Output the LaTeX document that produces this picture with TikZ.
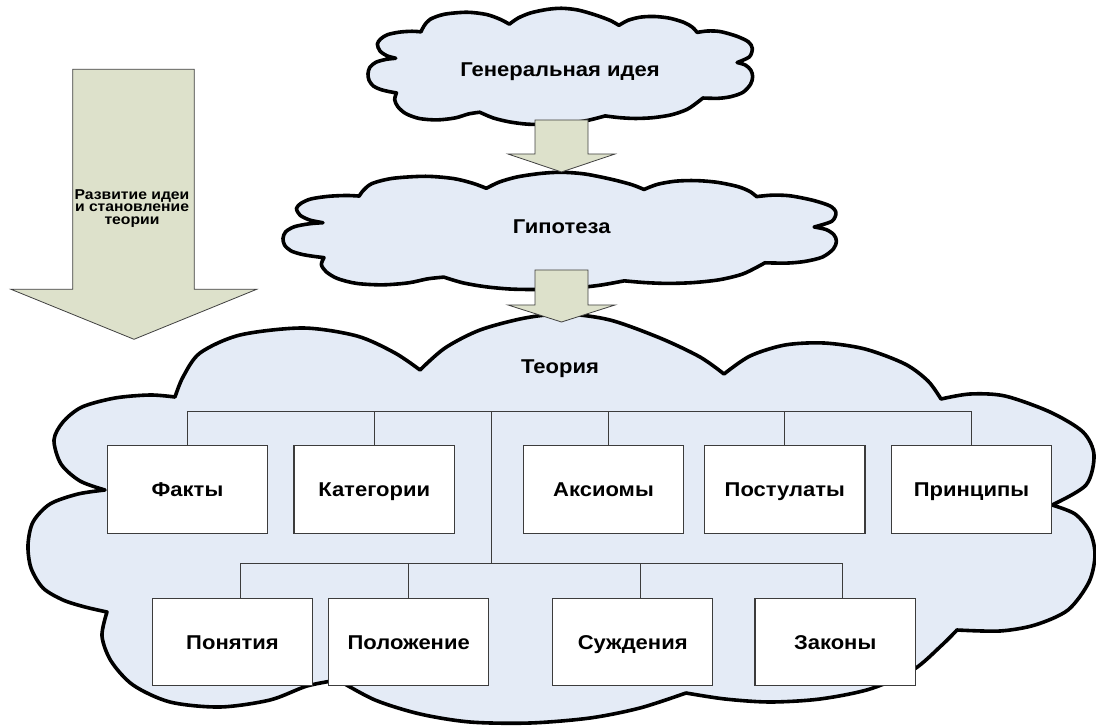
\documentclass[tikz,border=0pt]{standalone}
\usepackage{fontspec}
\setmainfont{Liberation Sans}
\usepackage{graphicx}
\definecolor{cloudfill}{RGB}{228,235,246}
\definecolor{arrowfill}{RGB}{221,225,203}
\definecolor{boxline}{RGB}{60,60,60}
\newcommand{\labelsize}{\bfseries\fontsize{15}{18}\selectfont}
\newcommand{\notesize}{\bfseries\fontsize{10.7}{9.3}\selectfont}
\newcommand{\wide}[1]{\scalebox{1.1}[1]{#1}}
\tikzset{
  cloudline/.style={draw=black, line width=2.7pt, fill=cloudfill, line join=round},
  blockarrow/.style={draw=black!75, line width=0.6pt, fill=arrowfill},
  box/.style={draw=boxline, line width=0.9pt, fill=white, minimum width=120.2pt,
    minimum height=65.5pt, inner sep=0pt, font=\labelsize, text height=10.74pt, text depth=0pt},
  conn/.style={draw=boxline, line width=0.9pt},
  heading/.style={inner sep=0pt, font=\labelsize, text height=10.74pt, text depth=0pt},
  sidenote/.style={inner sep=0pt, align=center, font=\notesize}
}
% Cloud outline, drawn in the frame of the large cloud; #1 maps it elsewhere
\newcommand{\cloudoutline}[1]{%
  \begin{scope}[#1]
    \draw[cloudline]
      plot[smooth] coordinates {(105,490) (80,481) (61,464) (54,440) (63,422) (82,407) (115,398) (150,395) (175,397)}
      -- plot[smooth] coordinates {(175,397) (183,377) (200,353) (240,335) (303,328) (357,336) (395,353) (420,370)}
      -- plot[smooth] coordinates {(420,370) (445,348) (480,330) (525,318) (565,314) (610,320) (660,338) (700,357) (724,374)}
      -- plot[smooth] coordinates {(724,374) (750,356) (785,345) (824,343) (865,349) (905,364) (928,381) (941,399)}
      -- plot[smooth] coordinates {(941,399) (970,394) (1005,396) (1050,412) (1083,432) (1094,455) (1086,485) (1052,505)}
      -- plot[smooth] coordinates {(1052,505) (1075,514) (1090,532) (1095,555) (1089,582) (1068,610) (1035,625) (1000,631) (957,630)}
      -- plot[smooth] coordinates {(957,630) (942,645) (913,670) (870,689) (820,699) (770,702) (725,699) (686,693)}
      -- plot[smooth] coordinates {(686,693) (640,708) (590,718) (530,723) (470,722) (420,714) (375,700) (338,680)}
      -- plot[smooth] coordinates {(338,680) (307,686) (270,700) (220,707) (170,702) (133,685) (111,661) (102,636) (107,612)}
      -- plot[smooth] coordinates {(107,612) (85,607) (63,600) (43,588) (31,568) (28,545) (33,522) (50,504) (78,494) (105,490)}
      -- cycle;
  \end{scope}}
\begin{document}
\begin{tikzpicture}[x=0.75pt, y=-0.75pt]
  \useasboundingbox (0,0) rectangle (1096,727);

  % clouds
  \cloudoutline{shift={(368,8)}, xscale=0.3605, yscale=0.284, shift={(-28,-313)}}
  \cloudoutline{shift={(283,172)}, xscale=0.5187, yscale=0.2864, shift={(-28,-313)}}
  \cloudoutline{}

  % block arrows
  \draw[blockarrow] (535,120) -- (588,120) -- (588,154) -- (615,154) -- (561.5,172)
    -- (508,154) -- (535,154) -- cycle;
  \draw[blockarrow] (535,270) -- (588,270) -- (588,305) -- (615,305) -- (561.5,322)
    -- (508,305) -- (535,305) -- cycle;
  \draw[blockarrow] (72.7,69.3) -- (194.3,69.3) -- (194.3,289.3) -- (256.7,289.3)
    -- (134,339.3) -- (11,289.3) -- (72.7,289.3) -- cycle;

  % headings
  \node[heading] (idea) at (560,69) {\wide{Генеральная идея}};
  \node[heading] (hyp) at (561.7,226.7) {\wide{Гипотеза}};
  \node[heading] (theory) at (560,366) {\wide{Теория}};
  \node[sidenote] (dev) at (132,208.2) {\wide{Развитие идеи}\\\wide{и становление}\\\wide{теории}};

  % upper row
  \node[box] (fakty) at (187.5,489.5) {\wide{Факты}};
  \node[box] (kateg) at (374.2,489.5) {\wide{Категории}};
  \node[box] (aksiom) at (603.5,489.5) {\wide{Аксиомы}};
  \node[box] (postul) at (784.8,489.5) {\wide{Постулаты}};
  \node[box] (princ) at (971.5,489.5) {\wide{Принципы}};
  % lower row
  \node[box] (ponyat) at (232.5,642) {\wide{Понятия}};
  \node[box] (polozh) at (408.7,642) {\wide{Положение}};
  \node[box] (suzhd) at (632.7,642) {\wide{Суждения}};
  \node[box] (zakon) at (835.2,642) {\wide{Законы}};

  % tree connectors
  \coordinate (topj) at (491.3,411.7);
  \coordinate (lowj) at (491.3,563.3);
  \draw[conn] (fakty.north) |- (topj) -| (princ.north);
  \draw[conn] (kateg.north) -- (kateg.north |- topj);
  \draw[conn] ([xshift=4pt]aksiom.north) -- ([xshift=4pt]aksiom.north |- topj);
  \draw[conn] (postul.north) -- (postul.north |- topj);
  \draw[conn] (topj) -- (lowj);
  \draw[conn] ([xshift=6pt]ponyat.north) |- (lowj) -| ([xshift=5.5pt]zakon.north);
  \draw[conn] (polozh.north) -- (polozh.north |- lowj);
  \draw[conn] ([xshift=6pt]suzhd.north) -- ([xshift=6pt]suzhd.north |- lowj);
\end{tikzpicture}
\end{document}
